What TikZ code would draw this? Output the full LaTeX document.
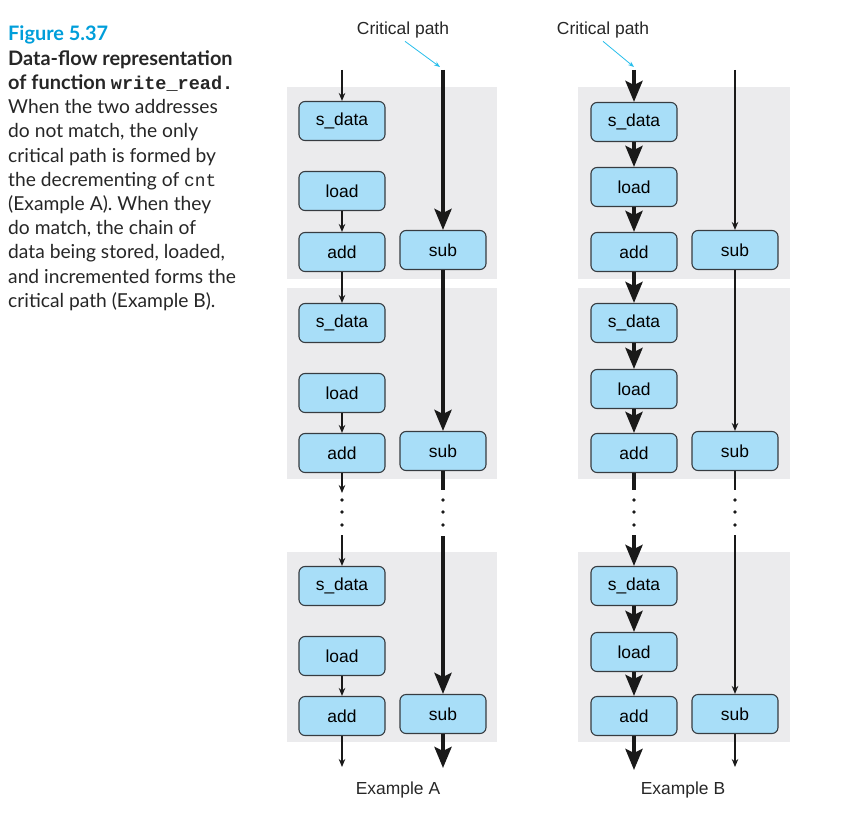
\documentclass[tikz,border=0pt]{standalone}
\usepackage{fontspec}
\setmainfont{Lato}
\newfontfamily\diagfont{Liberation Sans}
\newfontfamily\codefont[Scale=0.93]{Liberation Mono}
\usetikzlibrary{arrows.meta, positioning}

\definecolor{boxblue}{RGB}{168,222,248}
\definecolor{boxedge}{RGB}{55,60,65}
\definecolor{panelgray}{RGB}{235,235,237}
\definecolor{figblue}{RGB}{0,158,218}
\definecolor{critcyan}{RGB}{40,190,235}
\definecolor{flowblack}{RGB}{25,25,25}

\newcommand{\headsize}{\fontsize{20}{24.3}\selectfont}

\begin{document}
\begin{tikzpicture}[
    x=1bp, y=-1bp,
    op/.style={
        draw=boxedge,
        fill=boxblue,
        line width=1.1bp,
        rounded corners=6bp,
        minimum width=86bp,
        minimum height=39bp,
        inner sep=0pt,
        font=\diagfont\fontsize{17.5}{20}\selectfont
    },
    panel/.style={fill=panelgray, draw=none},
    label/.style={font=\diagfont\fontsize{17.5}{20}\selectfont, text=black!85, inner sep=0pt},
    thin path/.style={line width=1.2bp, draw=flowblack, -{Stealth[length=8bp, width=6.5bp]}},
    thick path/.style={line width=4bp, draw=flowblack, -{Stealth[length=21bp, width=17bp, inset=4bp]}},
    thin line/.style={line width=1.2bp, draw=flowblack},
    thick line/.style={line width=4bp, draw=flowblack},
    crit path/.style={line width=0.8bp, draw=critcyan, -{Stealth[length=6bp, width=4.5bp]}},
    gapdot/.style={circle, fill=flowblack, inner sep=0pt, minimum size=3.6bp}
]
\useasboundingbox (0,0) rectangle (867,815);

% Caption on the left
\node[anchor=north west, inner sep=0pt, align=left, text=black!85,
      font=\fontsize{19.3}{24.3}\selectfont] (caption) at (8,26) {%
    {\headsize\bfseries\color{figblue}Figure 5.37}\\
    {\headsize\bfseries Data-flow representation}\\
    {\headsize\bfseries of function {\codefont write\_read.}}\\
    When the two addresses\\
    do not match, the only\\
    critical path is formed by\\
    the decrementing of {\codefont cnt}\\
    (Example A). When they\\
    do match, the chain of\\
    data being stored, loaded,\\
    and incremented forms the\\
    critical path (Example B).};

% Grey panels, Example A
\fill[panel] (287,87) rectangle (497,279);
\fill[panel] (287,288) rectangle (497,479);
\fill[panel] (287,552) rectangle (497,742);

% Grey panels, Example B
\fill[panel] (578,87) rectangle (790,279);
\fill[panel] (578,288) rectangle (790,479);
\fill[panel] (578,552) rectangle (790,742);

% Example A operations
\node[op] (a_sdata1) at (342,121) {s\_data};
\node[op] (a_load1) at (342,191) {load};
\node[op] (a_add1) at (342,252) {add};
\node[op] (a_sub1) at (443,250) {sub};

\node[op] (a_sdata2) at (342,323) {s\_data};
\node[op] (a_load2) at (342,393) {load};
\node[op] (a_add2) at (342,453) {add};
\node[op] (a_sub2) at (443,451) {sub};

\node[op] (a_sdata3) at (342,586) {s\_data};
\node[op] (a_load3) at (342,656) {load};
\node[op] (a_add3) at (342,716) {add};
\node[op] (a_sub3) at (443,714) {sub};

% Example B operations
\node[op] (b_sdata1) at (634,122) {s\_data};
\node[op] (b_load1) at (634,187) {load};
\node[op] (b_add1) at (634,252) {add};
\node[op] (b_sub1) at (735,250) {sub};

\node[op] (b_sdata2) at (634,323) {s\_data};
\node[op] (b_load2) at (634,389) {load};
\node[op] (b_add2) at (634,453) {add};
\node[op] (b_sub2) at (735,451) {sub};

\node[op] (b_sdata3) at (634,586) {s\_data};
\node[op] (b_load3) at (634,652) {load};
\node[op] (b_add3) at (634,716) {add};
\node[op] (b_sub3) at (735,714) {sub};

% Labels
\node[label] (a_crit) at (403,30) {Critical path};
\node[label] (b_crit) at (603,30) {Critical path};
\node[label] (a_name) at (398,790) {Example A};
\node[label] (b_name) at (683,790) {Example B};

% Free ends
\coordinate (a_in_l) at (342,70);
\coordinate (a_in_r) at (443,70);
\coordinate (b_in_l) at (634,70);
\coordinate (b_in_r) at (735,70);
\coordinate (a_crit_tip) at (440,67);
\coordinate (b_crit_tip) at (634,67);

\coordinate (a_gap_l1) at (342,493);
\coordinate (a_gap_l2) at (342,535);
\coordinate (a_gap_r1) at (443,490);
\coordinate (a_gap_r2) at (443,536);
\coordinate (b_gap_l1) at (634,490);
\coordinate (b_gap_l2) at (634,535);
\coordinate (b_gap_r1) at (735,490);
\coordinate (b_gap_r2) at (735,535);

\coordinate (a_out_l) at (342,767);
\coordinate (a_out_r) at (443,768);
\coordinate (b_out_l) at (634,770);
\coordinate (b_out_r) at (735,767);

% Critical path pointers
\draw[crit path] (a_crit.south) ++(2,3) -- (a_crit_tip);
\draw[crit path] (b_crit.south) ++(0,3) -- (b_crit_tip);

% Example A edges
\draw[thin path] (a_in_l) -- (a_sdata1);
\draw[thin path] (a_load1) -- (a_add1);
\draw[thin path] (a_add1) -- (a_sdata2);
\draw[thin path] (a_load2) -- (a_add2);
\draw[thin path] (a_add2) -- (a_gap_l1);
\draw[thin path] (a_gap_l2) -- (a_sdata3);
\draw[thin path] (a_load3) -- (a_add3);
\draw[thin path] (a_add3) -- (a_out_l);

\draw[thick path] (a_in_r) -- (a_sub1);
\draw[thick path] (a_sub1) -- (a_sub2);
\draw[thick line] (a_sub2) -- (a_gap_r1);
\draw[thick path] (a_gap_r2) -- (a_sub3);
\draw[thick path] (a_sub3) -- (a_out_r);

% Example B edges
\draw[thick path] (b_in_l) -- (b_sdata1);
\draw[thick path] (b_sdata1) -- (b_load1);
\draw[thick path] (b_load1) -- (b_add1);
\draw[thick path] (b_add1) -- (b_sdata2);
\draw[thick path] (b_sdata2) -- (b_load2);
\draw[thick path] (b_load2) -- (b_add2);
\draw[thick line] (b_add2) -- (b_gap_l1);
\draw[thick path] (b_gap_l2) -- (b_sdata3);
\draw[thick path] (b_sdata3) -- (b_load3);
\draw[thick path] (b_load3) -- (b_add3);
\draw[thick path] (b_add3) -- (b_out_l);

\draw[thin path] (b_in_r) -- (b_sub1);
\draw[thin path] (b_sub1) -- (b_sub2);
\draw[thin line] (b_sub2) -- (b_gap_r1);
\draw[thin path] (b_gap_r2) -- (b_sub3);
\draw[thin path] (b_sub3) -- (b_out_r);

% Dots in the gaps
\node[gapdot] (a_dot_l1) at (342,500) {};
\node[gapdot] (a_dot_l2) at (342,512) {};
\node[gapdot] (a_dot_l3) at (342,525) {};
\node[gapdot] (a_dot_r1) at (443,500) {};
\node[gapdot] (a_dot_r2) at (443,512) {};
\node[gapdot] (a_dot_r3) at (443,525) {};
\node[gapdot] (b_dot_l1) at (634,500) {};
\node[gapdot] (b_dot_l2) at (634,512) {};
\node[gapdot] (b_dot_l3) at (634,525) {};
\node[gapdot] (b_dot_r1) at (735,500) {};
\node[gapdot] (b_dot_r2) at (735,512) {};
\node[gapdot] (b_dot_r3) at (735,525) {};

\end{tikzpicture}
\end{document}
